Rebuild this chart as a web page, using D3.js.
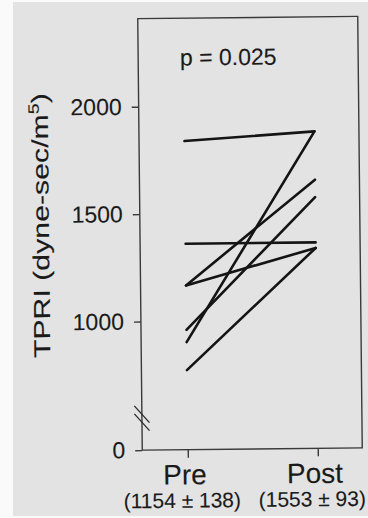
<!DOCTYPE html>
<html>
<head>
<meta charset="utf-8">
<script src="https://cdn.jsdelivr.net/npm/d3@7"></script>
<style>
  html, body { margin: 0; padding: 0; background: #fafafa; }
  svg { display: block; }
  text {
    font-family: "Liberation Sans", Arial, Helvetica, sans-serif;
    fill: #1a1a1a;
    stroke: #1a1a1a;
    stroke-width: 0.12px;
  }
</style>
</head>
<body>
<svg id="chart" width="368" height="518"></svg>
<script>
// Paired TPRI measurements, one line per subject
const groups = ["Pre", "Post"];
const groupSummaries = ["(1154 \u00b1 138)", "(1553 \u00b1 93)"];
const preValues  = [1838, 1360, 1166, 1166, 902, 959, 772];
const postValues = [1877, 1360, 1652, 1334, 1877, 1571, 1334];
const yTicks = [0, 1000, 1500, 2000];
const breakValue = 550;
const pLabel = "p = 0.025";

const W = 368, H = 518;
const frame = { left: 140, right: 360, top: 17.5, bottom: 449 };

const svg = d3.select("#chart");

// paper background
svg.append("rect").attr("x", 13).attr("y", 2).attr("width", W - 13).attr("height", H - 4)
  .attr("fill", "#e3e3e3");

const g = svg.append("g")
  .attr("transform", "rotate(-0.6, 250, 234)");

// broken value axis: 0 sits at the bottom, the linear part starts above the break
const y = d3.scaleLinear()
  .domain([0, breakValue, 2410])
  .range([frame.bottom, 417.1, frame.top]);

const x = d3.scalePoint()
  .domain(groups)
  .range([185.5, 315.5]);

// frame
g.append("rect")
  .attr("x", frame.left).attr("y", frame.top)
  .attr("width", frame.right - frame.left).attr("height", frame.bottom - frame.top)
  .attr("fill", "none").attr("stroke", "#3a3a3a").attr("stroke-width", 1.4);

// y axis ticks and labels
const yAxis = g.append("g")
  .attr("transform", `translate(${frame.left},0)`)
  .call(d3.axisLeft(y).tickValues(yTicks).tickSize(7).tickPadding(10).tickFormat(d3.format("d")));
yAxis.select(".domain").remove();
yAxis.selectAll("line").attr("stroke", "#3a3a3a").attr("stroke-width", 1.4);
yAxis.selectAll("text")
  .style("font-size", "23px")
  .style("font-family", '"Liberation Sans", Arial, sans-serif')
  .attr("fill", "#1a1a1a");

// x axis ticks
const xAxis = g.append("g")
  .attr("transform", `translate(0,${frame.bottom})`)
  .call(d3.axisBottom(x).tickSize(8).tickFormat(""));
xAxis.select(".domain").remove();
xAxis.selectAll("line").attr("stroke", "#3a3a3a").attr("stroke-width", 1.4);

// axis break marks
const yb = y(breakValue);
[-4, 4].forEach(off => {
  g.append("line")
    .attr("x1", frame.left - 7.5).attr("y1", yb + off - 8.5)
    .attr("x2", frame.left + 7.5).attr("y2", yb + off + 8.5)
    .attr("stroke", "#2a2a2a").attr("stroke-width", 1.3);
});

// subject lines
const pairs = preValues.map((v, i) => [v, postValues[i]]);
g.append("g").selectAll("line")
  .data(pairs)
  .join("line")
  .attr("x1", x("Pre")).attr("y1", d => y(d[0]))
  .attr("x2", x("Post")).attr("y2", d => y(d[1]))
  .attr("stroke", "#141414").attr("stroke-width", 2.6).attr("stroke-linecap", "round");

// group labels
g.append("g").selectAll("text")
  .data(groups)
  .join("text")
  .attr("x", d => x(d) - 3).attr("y", 483.7)
  .attr("text-anchor", "middle").style("font-size", "28px")
  .text(d => d);

g.append("g").selectAll("text")
  .data(groupSummaries)
  .join("text")
  .attr("x", (d, i) => x(groups[i]) - 6).attr("y", 507)
  .attr("text-anchor", "middle").style("font-size", "21px")
  .text(d => d);

// significance
g.append("text")
  .attr("x", 181.8).attr("y", 64.8)
  .style("font-size", "23px")
  .text(pLabel);

// y axis title with superscript
const title = g.append("text")
  .attr("text-anchor", "middle")
  .style("font-size", "23px");
title.append("tspan").text("TPRI (dyne-sec/m");
title.append("tspan").style("font-size", "15px").attr("dy", -9).text("5");
title.append("tspan").attr("dy", 9).text(")");
const natural = title.node().getComputedTextLength();
const stretch = 265 / natural;
title.attr("transform", `translate(49,223.5) rotate(-90) scale(${stretch},1)`);
</script>
</body>
</html>
